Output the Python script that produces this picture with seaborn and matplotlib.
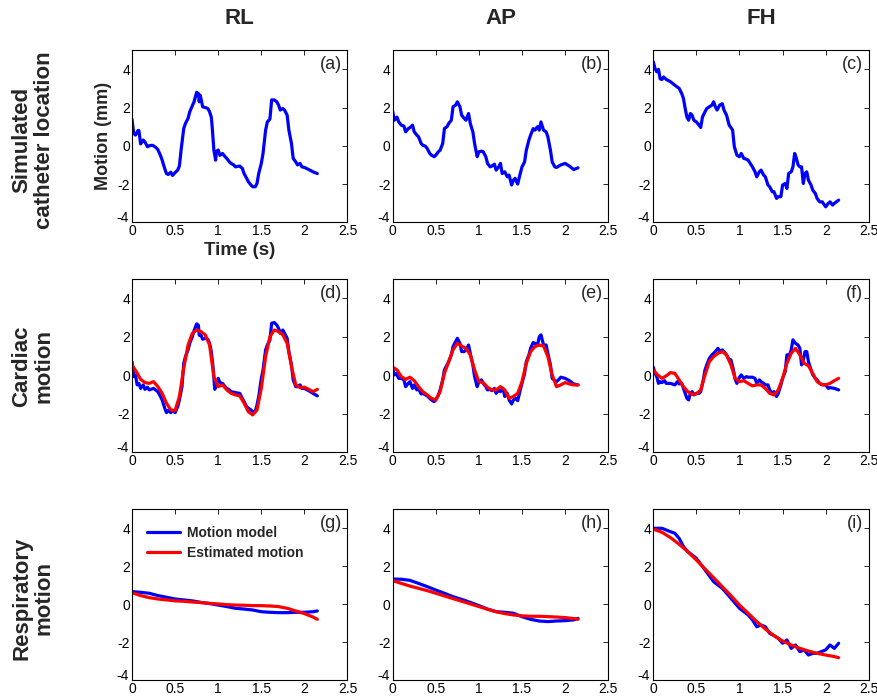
import matplotlib
matplotlib.use("Agg")
import matplotlib.pyplot as plt
from matplotlib.ticker import FuncFormatter, FixedLocator
from matplotlib.transforms import ScaledTranslation
import seaborn as sns
import pandas as pd

# ---------------- data ----------------
col_titles = ["RL", "AP", "FH"]
row_titles = ["Simulated\ncatheter location", "Cardiac\nmotion", "Respiratory\nmotion"]
panel_tags = ["(a)", "(b)", "(c)", "(d)", "(e)", "(f)", "(g)", "(h)", "(i)"]
legend_labels = ["Motion model", "Estimated motion"]
x_ticks = [0, 0.5, 1, 1.5, 2, 2.5]
y_ticks = [-4, -2, 0, 2, 4]

# Row 1: simulated catheter location (blue only)
t_a = [0, 0.02, 0.04, 0.07, 0.08, 0.1, 0.13, 0.15, 0.18, 0.2, 0.23, 0.25, 0.28, 0.3, 0.33, 0.35, 0.38, 0.4, 0.42, 0.45,
       0.47, 0.5, 0.53, 0.55, 0.57, 0.6, 0.62, 0.65, 0.67, 0.7, 0.72, 0.75, 0.77, 0.78, 0.79, 0.8, 0.82, 0.85, 0.88, 0.9,
       0.92, 0.93, 0.95, 0.97, 0.98, 1.0, 1.02, 1.05, 1.08, 1.1, 1.13, 1.15, 1.18, 1.2, 1.25, 1.28, 1.3, 1.33, 1.35, 1.38,
       1.4, 1.43, 1.45, 1.47, 1.5, 1.52, 1.55, 1.57, 1.6, 1.62, 1.65, 1.68, 1.7, 1.72, 1.75, 1.77, 1.8, 1.82, 1.85, 1.87,
       1.9, 1.92, 1.95, 1.97, 2.0, 2.05, 2.1, 2.15]
rl_sim = [1.39, 0.65, 0.56, 0.8, 0.8, 0.1, 0.3, 0.2, -0.05, 0, 0.03, 0, -0.1, -0.2, -0.5, -0.75, -1.2, -1.45, -1.5, -1.38,
          -1.55, -1.4, -1.27, -1.05, -0.2, 0.9, 1.17, 1.43, 1.78, 2.1, 2.3, 2.8, 2.73, 2.3, 2.65, 2.47, 2.04, 2.0, 1.95, 1.78,
          1.5, 1.0, -0.23, -0.75, -0.3, -0.22, -0.5, -0.4, -0.57, -0.66, -0.84, -0.92, -1.0, -1.1, -1.06, -1.18, -1.45, -1.7,
          -1.88, -2.05, -2.14, -2.14, -1.97, -1.45, -0.92, -0.4, 0.82, 1.25, 1.4, 2.4, 2.4, 2.3, 2.13, 1.87, 1.95, 1.87, 1.6,
          0.82, 0.12, -0.66, -0.84, -1.0, -0.92, -1.1, -1.13, -1.24, -1.36, -1.45]

t_b = [0, 0.02, 0.05, 0.07, 0.1, 0.13, 0.15, 0.18, 0.2, 0.23, 0.25, 0.28, 0.3, 0.33, 0.35, 0.38, 0.4, 0.43, 0.45, 0.48,
       0.5, 0.53, 0.55, 0.58, 0.6, 0.63, 0.65, 0.68, 0.7, 0.73, 0.75, 0.78, 0.8, 0.83, 0.85, 0.88, 0.9, 0.93, 0.95, 0.98,
       1.0, 1.03, 1.05, 1.08, 1.1, 1.13, 1.15, 1.18, 1.2, 1.23, 1.25, 1.27, 1.3, 1.33, 1.35, 1.38, 1.4, 1.42, 1.45, 1.47,
       1.5, 1.53, 1.55, 1.58, 1.6, 1.63, 1.65, 1.68, 1.7, 1.72, 1.75, 1.78, 1.8, 1.83, 1.85, 1.88, 1.9, 1.95, 2.0, 2.05,
       2.1, 2.15]
ap_sim = [1.78, 1.34, 1.5, 1.25, 1.08, 1.03, 0.73, 0.9, 0.95, 1.08, 0.73, 0.56, 0.47, 0.12, 0.03, -0.02, -0.14, -0.4, -0.49,
          -0.57, -0.49, -0.31, -0.23, 0.12, 0.9, 1.0, 1.17, 1.34, 2.04, 2.13, 2.3, 2.04, 1.6, 1.43, 1.34, 1.69, 1.17, 0.73,
          0.12, -0.57, -0.31, -0.28, -0.31, -0.57, -0.92, -1.1, -1.06, -0.96, -1.27, -1.1, -0.92, -1.45, -1.36, -1.62,
          -1.53, -2.05, -1.8, -1.7, -2.0, -1.62, -1.1, -0.84, -0.23, 0.3, 0.56, 0.9, 0.82, 1.0, 0.82, 1.25, 0.82, 0.73,
          0.47, -0.23, -0.84, -1.1, -1.13, -1.0, -0.92, -1.06, -1.24, -1.15]

t_c = [0, 0.02, 0.04, 0.06, 0.08, 0.1, 0.12, 0.15, 0.2, 0.25, 0.3, 0.33, 0.35, 0.37, 0.39, 0.41, 0.43, 0.45, 0.47, 0.5,
       0.53, 0.55, 0.57, 0.6, 0.62, 0.65, 0.68, 0.7, 0.72, 0.74, 0.77, 0.8, 0.82, 0.85, 0.88, 0.9, 0.92, 0.94, 0.97, 1.0,
       1.02, 1.05, 1.08, 1.1, 1.13, 1.15, 1.18, 1.2, 1.23, 1.25, 1.28, 1.3, 1.33, 1.35, 1.38, 1.4, 1.43, 1.45, 1.48, 1.5,
       1.53, 1.55, 1.57, 1.6, 1.62, 1.64, 1.66, 1.68, 1.7, 1.72, 1.74, 1.76, 1.78, 1.8, 1.83, 1.85, 1.88, 1.9, 1.93, 1.96,
       2.0, 2.03, 2.05, 2.08, 2.1, 2.15]
fh_sim = [4.39, 4.04, 3.87, 4.0, 3.5, 3.47, 3.6, 3.47, 3.35, 3.17, 3.0, 2.73, 2.47, 1.95, 1.5, 1.34, 1.69, 1.6, 1.34, 1.25,
          1.08, 0.96, 1.5, 1.78, 1.95, 2.04, 2.13, 2.3, 2.04, 1.87, 2.13, 2.2, 1.87, 1.6, 1.08, 0.96, 0.82, -0.05, -0.49,
          -0.57, -0.4, -0.66, -0.7, -0.75, -0.96, -1.1, -1.36, -1.62, -1.36, -1.27, -1.53, -1.62, -2.05, -2.14, -2.4, -2.4,
          -2.75, -2.66, -2.66, -2.05, -1.97, -2.23, -1.45, -1.36, -1.1, -0.4, -0.66, -1.0, -1.1, -1.1, -1.97, -1.45, -1.36,
          -1.8, -2.05, -2.32, -2.49, -2.75, -2.93, -2.93, -3.19, -3.01, -2.93, -3.1, -3.01, -2.84]

# Row 2: cardiac motion (model = blue, estimate = red)
t_d = [0, 0.02, 0.04, 0.06, 0.08, 0.1, 0.13, 0.15, 0.18, 0.2, 0.25, 0.3, 0.33, 0.35, 0.38, 0.4, 0.42, 0.45, 0.47, 0.5,
       0.53, 0.55, 0.58, 0.6, 0.62, 0.65, 0.67, 0.7, 0.72, 0.75, 0.77, 0.78, 0.8, 0.82, 0.85, 0.88, 0.9, 0.92, 0.94, 0.96,
       0.98, 1.0, 1.02, 1.05, 1.08, 1.1, 1.13, 1.15, 1.2, 1.25, 1.3, 1.33, 1.35, 1.38, 1.4, 1.43, 1.45, 1.47, 1.5, 1.52,
       1.55, 1.57, 1.6, 1.62, 1.65, 1.68, 1.7, 1.72, 1.75, 1.77, 1.8, 1.82, 1.85, 1.87, 1.9, 1.92, 1.95, 1.97, 2.0, 2.05,
       2.1, 2.15]
rl_card_model = [0.71, -0.07, 0.02, -0.5, -0.42, -0.68, -0.5, -0.73, -0.62, -0.76, -0.68, -0.85, -1.1, -1.28, -1.71,
                 -1.94, -1.83, -1.94, -1.83, -1.94, -1.63, -1.28, -0.59, 0.62, 0.97, 1.32, 1.66, 2.0, 2.32, 2.67, 2.6,
                 2.08, 2.08, 1.87, 1.92, 1.87, 1.66, 1.23, 0.45, -0.73, -0.42, -0.16, -0.38, -0.42, -0.59, -0.68, -0.76,
                 -0.85, -0.9, -0.94, -1.37, -1.63, -1.71, -1.8, -1.89, -1.89, -1.54, -1.1, -0.16, 0.28, 1.32, 1.57, 1.83,
                 2.7, 2.74, 2.61, 2.44, 2.18, 2.35, 2.18, 1.92, 1.23, 0.54, -0.24, -0.59, -0.59, -0.5, -0.68, -0.68,
                 -0.8, -0.94, -1.07]

t_e = [0, 0.02, 0.04, 0.07, 0.1, 0.13, 0.15, 0.18, 0.2, 0.23, 0.25, 0.28, 0.3, 0.33, 0.35, 0.4, 0.45, 0.48, 0.5, 0.53,
       0.55, 0.58, 0.6, 0.63, 0.65, 0.68, 0.7, 0.73, 0.75, 0.78, 0.8, 0.83, 0.85, 0.88, 0.9, 0.93, 0.95, 0.98, 1.0, 1.03,
       1.05, 1.08, 1.1, 1.13, 1.15, 1.18, 1.2, 1.23, 1.25, 1.28, 1.3, 1.33, 1.35, 1.38, 1.4, 1.43, 1.45, 1.48, 1.5, 1.53,
       1.55, 1.58, 1.6, 1.63, 1.65, 1.68, 1.7, 1.72, 1.75, 1.78, 1.8, 1.83, 1.85, 1.88, 1.9, 1.93, 1.95, 2.0, 2.05, 2.1,
       2.15]
ap_card_model = [0.36, 0.02, 0.1, -0.16, -0.16, -0.24, -0.59, -0.42, -0.33, -0.68, -0.5, -0.76, -0.68, -0.97, -0.94,
                 -1.07, -1.28, -1.37, -1.28, -1.02, -0.76, -0.24, 0.28, 0.54, 0.71, 1.06, 1.49, 1.75, 1.92, 1.66, 1.23,
                 1.23, 1.32, 1.57, 1.14, 0.54, -0.07, -0.59, -0.33, -0.24, -0.42, -0.59, -0.76, -0.73, -0.8, -0.68,
                 -0.94, -0.76, -0.85, -0.68, -1.1, -0.94, -1.28, -1.49, -1.28, -1.2, -1.32, -0.76, -0.42, 0.1, 0.71,
                 1.06, 1.4, 1.7, 1.66, 1.57, 2.0, 2.1, 1.57, 1.57, 1.14, 0.54, -0.16, -0.28, -0.33, -0.21, -0.1, -0.16,
                 -0.28, -0.45, -0.5]

t_f = [0, 0.02, 0.04, 0.06, 0.08, 0.1, 0.13, 0.15, 0.2, 0.25, 0.28, 0.3, 0.33, 0.35, 0.37, 0.39, 0.41, 0.43, 0.45, 0.47,
       0.5, 0.53, 0.55, 0.58, 0.6, 0.62, 0.65, 0.68, 0.7, 0.72, 0.75, 0.77, 0.8, 0.82, 0.85, 0.88, 0.9, 0.93, 0.95, 0.97,
       1.0, 1.02, 1.05, 1.08, 1.1, 1.15, 1.18, 1.2, 1.23, 1.25, 1.28, 1.3, 1.33, 1.35, 1.38, 1.4, 1.43, 1.45, 1.48, 1.5,
       1.53, 1.55, 1.58, 1.6, 1.62, 1.65, 1.68, 1.7, 1.72, 1.74, 1.76, 1.78, 1.8, 1.83, 1.85, 1.88, 1.9, 1.93, 1.96, 2.0,
       2.03, 2.05, 2.1, 2.15]
fh_card_model = [0.42, 0.1, -0.07, -0.42, -0.33, -0.38, -0.28, -0.42, -0.42, -0.5, -0.33, -0.45, -0.42, -0.68, -0.94,
                 -1.2, -1.28, -0.94, -0.85, -1.02, -0.94, -0.94, -0.85, -0.24, 0.28, 0.54, 0.88, 1.06, 1.14, 1.23, 1.4,
                 1.23, 1.32, 1.23, 1.06, 0.8, 0.8, 0.28, -0.21, -0.42, -0.1, 0.02, -0.16, -0.07, -0.1, -0.1, -0.16,
                 -0.42, -0.24, -0.33, -0.42, -0.5, -0.5, -0.76, -0.94, -0.85, -1.1, -0.94, -0.5, -0.16, 0.19, 1.06,
                 1.06, 1.32, 1.84, 1.66, 1.57, 1.4, 0.54, 0.8, 1.23, 1.23, 0.71, 0.28, 0.02, -0.16, -0.24, -0.42, -0.5,
                 -0.5, -0.68, -0.64, -0.68, -0.76]

t_fit = [0, 0.05, 0.1, 0.15, 0.2, 0.25, 0.3, 0.35, 0.4, 0.45, 0.5, 0.55, 0.6, 0.65, 0.7, 0.75, 0.8, 0.85, 0.9, 0.95,
         1.0, 1.05, 1.1, 1.15, 1.2, 1.25, 1.3, 1.35, 1.4, 1.45, 1.5, 1.55, 1.6, 1.65, 1.7, 1.75, 1.8, 1.85, 1.9, 1.95,
         2.0, 2.05, 2.1, 2.15]
rl_card_est = [0.54, 0.19, -0.21, -0.38, -0.42, -0.33, -0.59, -0.94, -1.45, -1.8, -1.83, -1.1, 0.36, 1.57, 2.18, 2.35,
               2.27, 2.1, 1.57, -0.07, -0.59, -0.5, -0.76, -0.94, -1.02, -1.07, -1.45, -1.89, -2.06, -1.8, -0.68, 0.97,
               2.0, 2.35, 2.27, 2.1, 1.66, 0.45, -0.5, -0.64, -0.62, -0.73, -0.85, -0.73]
ap_card_est = [0.42, 0.28, -0.07, -0.21, -0.1, -0.28, -0.59, -0.85, -1.02, -1.2, -1.28, -0.85, 0.1, 0.71, 1.32, 1.66,
               1.52, 1.4, 1.06, 0.28, -0.33, -0.38, -0.62, -0.76, -0.76, -0.59, -0.76, -1.2, -1.1, -0.94, -0.33, 0.62,
               1.23, 1.49, 1.57, 1.52, 0.97, 0.02, -0.59, -0.5, -0.38, -0.45, -0.5, -0.5]
fh_card_est = [0.28, 0.02, -0.16, -0.03, 0.14, 0.1, -0.24, -0.59, -0.85, -0.99, -0.97, -0.76, 0.02, 0.71, 0.97, 1.14,
               1.23, 1.06, 0.54, -0.16, -0.33, -0.28, -0.42, -0.55, -0.5, -0.5, -0.68, -0.94, -1.02, -0.76, -0.16, 0.62,
               1.14, 1.4, 1.06, 0.62, 0.49, 0.1, -0.33, -0.47, -0.5, -0.42, -0.28, -0.16]

# Row 3: respiratory motion
t_resp = [0, 0.1, 0.2, 0.3, 0.4, 0.5, 0.6, 0.7, 0.8, 0.9, 1.0, 1.1, 1.2, 1.3, 1.4, 1.5, 1.6, 1.7, 1.8, 1.9, 2.0, 2.1, 2.15]
rl_resp_model = [0.67, 0.63, 0.58, 0.46, 0.37, 0.28, 0.23, 0.18, 0.1, 0.04, -0.04, -0.12, -0.21, -0.25, -0.3, -0.39,
                 -0.42, -0.44, -0.44, -0.42, -0.42, -0.39, -0.35]
rl_resp_est = [0.61, 0.46, 0.35, 0.28, 0.23, 0.18, 0.16, 0.12, 0.09, 0.05, 0.02, -0.02, -0.04, -0.05, -0.07, -0.07,
               -0.09, -0.12, -0.21, -0.35, -0.49, -0.67, -0.79]
ap_resp_model = [1.33, 1.32, 1.26, 1.1, 0.93, 0.75, 0.58, 0.4, 0.26, 0.1, -0.07, -0.25, -0.39, -0.42, -0.47, -0.65,
                 -0.79, -0.88, -0.91, -0.88, -0.86, -0.82, -0.74]
ap_resp_est = [1.25, 1.1, 0.96, 0.84, 0.72, 0.58, 0.44, 0.3, 0.16, 0.02, -0.12, -0.26, -0.39, -0.49, -0.56, -0.61,
               -0.63, -0.63, -0.65, -0.67, -0.7, -0.75, -0.79]
t_i = [0, 0.1, 0.2, 0.25, 0.3, 0.35, 0.4, 0.5, 0.6, 0.7, 0.8, 0.85, 0.9, 1.0, 1.1, 1.15, 1.2, 1.25, 1.3, 1.35, 1.4,
       1.45, 1.5, 1.55, 1.6, 1.65, 1.7, 1.75, 1.8, 1.85, 1.9, 1.95, 2.0, 2.05, 2.1, 2.15]
fh_resp_model = [4.0, 4.0, 3.82, 3.74, 3.47, 3.04, 2.77, 2.42, 1.81, 1.19, 0.84, 0.58, 0.32, -0.21, -0.56, -0.82,
                 -1.18, -1.09, -1.18, -1.53, -1.65, -1.79, -2.05, -1.88, -2.32, -2.14, -2.49, -2.4, -2.67, -2.58,
                 -2.58, -2.49, -2.4, -2.14, -2.32, -2.05]
fh_resp_est = [3.96, 3.79, 3.51, 3.16, 2.77, 2.33, 1.86, 1.4, 0.93, 0.46, -0.04, -0.47, -0.91, -1.3, -1.65, -1.93,
               -2.14, -2.32, -2.46, -2.58, -2.67, -2.75, -2.81]

# ---------------- style ----------------
sns.set_style("white")
plt.rcParams["font.family"] = ["Liberation Sans", "DejaVu Sans"]
plt.rcParams["axes.unicode_minus"] = False

BLUE = "#0000FF"
RED = "#FF0000"
LW = 2.3

W, H = 878, 699
fig = plt.figure(figsize=(W / 100, H / 100), dpi=100)

col_left = [132.0, 392.7, 653.3]
col_w = 215.5
row_tb = [(50.2, 222.3), (279.0, 452.3), (509.3, 680.3)]

panels = [
    [(t_a, rl_sim, None, None), (t_b, ap_sim, None, None), (t_c, fh_sim, None, None)],
    [(t_d, rl_card_model, t_fit, rl_card_est), (t_e, ap_card_model, t_fit, ap_card_est),
     (t_f, fh_card_model, t_fit, fh_card_est)],
    [(t_resp, rl_resp_model, t_resp, rl_resp_est), (t_resp, ap_resp_model, t_resp, ap_resp_est),
     (t_i, fh_resp_model, t_resp, fh_resp_est)],
]

fmt = FuncFormatter(lambda v, p: ("%g" % v))
axes = []
for r in range(3):
    top, bot = row_tb[r]
    for c in range(3):
        l = col_left[c]
        ax = fig.add_axes([l / W, 1 - bot / H, col_w / W, (bot - top) / H])
        axes.append(ax)
        tm, ym, te_, ye_ = panels[r][c]
        dfm = pd.DataFrame({"t": tm, "y": ym})
        sns.lineplot(data=dfm, x="t", y="y", ax=ax, color=BLUE, linewidth=LW,
                     estimator=None, sort=False, label=legend_labels[0])
        if te_ is not None:
            dfe = pd.DataFrame({"t": te_, "y": ye_})
            sns.lineplot(data=dfe, x="t", y="y", ax=ax, color=RED, linewidth=LW,
                         estimator=None, sort=False, label=legend_labels[1])
        ax.set_xlim(0, 2.5)
        ax.set_ylim(-4, 5)
        ax.xaxis.set_major_locator(FixedLocator(x_ticks))
        ax.yaxis.set_major_locator(FixedLocator(y_ticks))
        ax.xaxis.set_major_formatter(fmt)
        ax.yaxis.set_major_formatter(fmt)
        ax.tick_params(direction="in", top=True, right=True, length=3.5, width=0.6,
                       labelsize=10, colors="black", pad=1.5)
        for s in ax.spines.values():
            s.set_color("black")
            s.set_linewidth(0.8)
        ax.set_xlabel("")
        ax.set_ylabel("")
        # MATLAB-style corner: lift the "-4" label slightly above the x "0" label
        low = ax.yaxis.get_major_ticks()[0].label1
        low.set_transform(low.get_transform() + ScaledTranslation(-1 / 100, 6 / 100, fig.dpi_scale_trans))
        ax.text(0.975, 0.915, panel_tags[r * 3 + c], transform=ax.transAxes,
                ha="right", va="center", fontsize=13)
        if r == 2 and c == 0:
            ax.legend(loc="upper left", bbox_to_anchor=(0.07, 0.905), frameon=False,
                      prop={"weight": "bold", "size": 10}, handlelength=2.4,
                      handletextpad=0.5, labelspacing=0.45, borderpad=0, borderaxespad=0)
        else:
            leg = ax.get_legend()
            if leg is not None:
                leg.remove()

ax0 = axes[0]
ax0.set_ylabel("Motion (mm)", fontsize=13, fontweight="bold")
ax0.yaxis.set_label_coords(-0.093, 0.5)
ax0.set_xlabel("Time (s)", fontsize=13.5, fontweight="bold")
ax0.xaxis.set_label_coords(0.5, -0.112)

for c, title in enumerate(col_titles):
    x = (col_left[c] + col_w / 2) / W
    fig.text(x, 1 - 18 / H, title, ha="center", va="center", fontsize=16, fontweight="bold")

row_centers = [140, 366, 598]
for r, title in enumerate(row_titles):
    fig.text(33 / W, 1 - row_centers[r] / H, title, ha="center", va="center", rotation=90,
             fontsize=16, fontweight="bold", multialignment="center", linespacing=1.1)

fig.savefig("out.png", dpi=100)
